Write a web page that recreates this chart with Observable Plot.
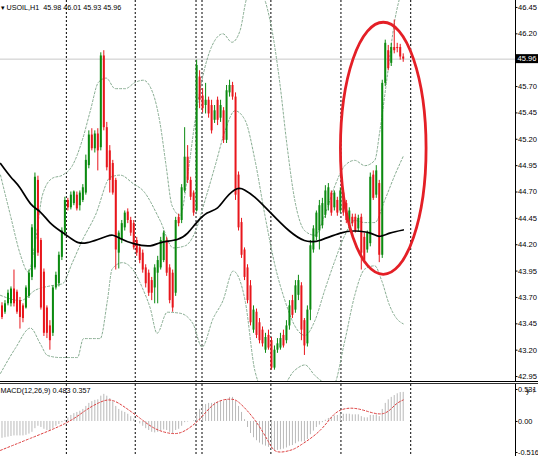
<!DOCTYPE html>
<html><head><meta charset="utf-8">
<script src="https://cdn.jsdelivr.net/npm/d3@7"></script>
<script src="https://cdn.jsdelivr.net/npm/@observablehq/plot@0.6"></script>
<style>
body{margin:0;background:#fff;}
#wrap{width:538px;height:456px;overflow:hidden;background:#fff;}
#wrap svg{display:block;}
</style></head><body><div id="wrap"></div>
<script>
// ---- USOIL H1 candles (price) ----
const open = [
43.62,43.56,43.64,43.64,43.78,43.75,43.67,43.62,43.60,43.71,
43.89,43.98,44.81,44.24,43.94,43.60,43.43,43.36,43.79,43.83,
44.08,44.31,44.62,44.55,44.59,44.67,44.57,44.62,44.69,44.95,
45.24,45.11,45.25,45.12,45.99,45.31,45.09,44.97,44.81,44.12,
44.24,44.36,44.51,44.43,44.40,44.24,44.17,44.12,43.98,43.93,
43.86,43.79,43.93,43.98,44.05,44.24,43.98,43.93,43.74,44.46,
44.43,44.71,45.03,44.81,44.69,44.52,45.79,45.61,45.52,45.57,
45.52,45.38,45.57,45.40,45.47,45.19,45.64,45.71,45.60,44.86,
44.41,44.15,43.98,43.81,43.39,43.56,43.46,43.39,43.20,43.34,
43.29,43.03,43.20,43.22,43.34,43.29,43.43,43.67,43.58,43.72,
43.81,43.48,43.26,43.58,44.15,44.27,44.33,44.38,44.48,44.57,
44.69,44.55,44.62,44.52,44.69,44.59,44.40,44.46,44.46,44.35,
44.46,44.27,44.15,44.21,44.86,44.67,44.78,44.10,45.73,46.04,
45.92,46.07,46.07,46.07,45.98];
const high = [
43.65,43.67,43.77,43.80,43.96,43.77,43.70,43.64,43.81,43.96,
44.39,44.88,44.85,44.26,43.97,43.62,43.48,43.81,43.94,44.13,
44.36,44.65,44.64,44.70,44.71,44.70,44.71,44.77,45.05,45.28,
45.30,45.28,45.30,46.02,46.04,45.36,45.14,45.00,44.83,44.33,
44.43,44.52,44.54,44.46,44.43,44.27,44.20,44.15,44.01,43.96,
43.89,44.01,44.09,44.27,44.33,44.27,44.01,43.96,44.46,44.49,
44.77,45.31,45.14,44.84,44.71,45.95,45.85,45.68,45.73,45.60,
45.57,45.52,45.60,45.57,45.50,45.71,45.76,45.74,45.64,44.89,
44.45,44.17,44.01,43.86,43.62,43.59,43.50,43.42,43.36,43.39,
43.32,43.24,43.31,43.36,43.39,43.48,43.67,43.72,43.86,43.91,
43.84,43.50,43.62,44.24,44.38,44.52,44.62,44.64,44.76,44.78,
44.71,44.71,44.65,44.74,44.71,44.62,44.55,44.49,44.49,44.48,
44.49,44.31,44.33,44.88,44.90,44.95,44.81,45.76,46.14,46.09,
46.11,46.33,46.11,46.10,46.01];
const low = [
43.49,43.54,43.62,43.61,43.61,43.54,43.40,43.46,43.59,43.69,
43.86,43.96,44.09,43.58,43.33,43.31,43.20,43.33,43.77,43.80,
44.05,44.28,44.52,44.53,44.57,44.52,44.52,44.60,44.67,44.92,
45.09,45.07,44.90,45.09,45.28,44.90,44.69,44.67,43.96,43.97,
44.21,44.33,44.40,44.28,44.15,44.09,44.02,43.93,43.79,43.71,
43.67,43.64,43.64,43.96,44.03,43.90,43.64,43.56,43.71,44.37,
44.40,44.69,44.78,44.62,44.47,44.51,45.49,45.45,45.44,45.40,
45.25,45.35,45.33,45.36,45.16,45.16,45.60,45.57,44.62,44.33,
44.07,43.86,43.64,43.43,43.36,43.31,43.26,43.23,43.17,43.20,
43.01,43.01,43.17,43.20,43.22,43.26,43.39,43.50,43.55,43.67,
43.29,43.15,43.23,43.48,44.12,44.24,44.15,44.35,44.45,44.52,
44.47,44.52,44.47,44.50,44.47,44.40,44.33,44.37,44.31,44.32,
43.96,44.02,44.12,44.18,44.62,44.64,44.03,44.07,45.70,45.85,
45.89,46.01,46.02,45.95,45.93];
const close = [
43.51,43.64,43.74,43.78,43.64,43.56,43.51,43.50,43.79,43.93,
44.36,44.84,44.12,43.60,43.36,43.36,43.29,43.79,43.91,44.10,
44.33,44.62,44.55,44.67,44.70,44.54,44.69,44.74,45.00,45.24,
45.11,45.25,45.09,45.99,45.31,44.93,44.81,44.69,44.15,44.31,
44.40,44.50,44.43,44.31,44.17,44.12,44.05,43.96,43.83,43.74,
43.74,43.98,44.05,44.24,44.31,43.93,43.67,43.60,44.43,44.40,
44.74,45.03,44.81,44.65,44.50,45.90,45.57,45.49,45.57,45.44,
45.28,45.47,45.38,45.52,45.19,45.66,45.71,45.60,44.67,44.36,
44.10,43.89,43.67,43.46,43.58,43.34,43.29,43.26,43.32,43.22,
43.03,43.20,43.26,43.31,43.24,43.43,43.62,43.53,43.81,43.86,
43.39,43.24,43.58,44.19,44.35,44.50,44.57,44.59,44.71,44.74,
44.50,44.69,44.50,44.71,44.50,44.43,44.52,44.40,44.33,44.45,
44.12,44.05,44.31,44.84,44.64,44.90,44.10,45.73,46.11,45.87,
46.07,46.04,46.06,45.98,45.96];

// ---- Moving average (black), sampled points: bar index / price ----
const maIdx = [-0.5,3,6,9.5,12.8,16,19.5,23,25.5,28.5,32,35,37,39.5,44,49.5,53,58.5,62,65,68.5,72,75,78.5,81,84.5,89.5,96,101,103.5,106,113,118,123,126,129.5,134];
const maVal = [44.97,44.84,44.74,44.59,44.51,44.41,44.33,44.26,44.22,44.22,44.25,44.28,44.29,44.26,44.21,44.19,44.22,44.25,44.31,44.41,44.50,44.55,44.65,44.73,44.72,44.65,44.51,44.33,44.24,44.23,44.24,44.31,44.33,44.31,44.28,44.31,44.34];

// ---- Bollinger bands (dotted), sampled points ----
const upIdx = [-0.5,2.8,6.2,8.8,11.2,13.5,16.8,20.2,23.5,26.8,29.5,32.2,34.8,37.8,41.2,44.5,47.2,50.5,52.8,54.8,56.8,59.5,62.2,64.5,66.8,70.2,73.8,76.8,79.5,82.2,86.8,89.5,92.8,95.2,97.8,101.2,104.5,107.8,111.2,114.5,117.8,121.2,124.5,126.2,128.5,131.2,133.5];
const upVal = [44.86,44.48,44.10,43.94,44.24,44.67,44.83,44.86,44.95,45.19,45.47,45.74,45.78,45.68,45.68,45.74,45.76,45.63,45.35,44.95,44.57,44.48,44.90,45.38,45.76,46.09,46.20,46.12,46.23,46.56,46.56,46.33,45.73,45.14,44.62,44.33,44.29,44.48,44.76,44.95,45.00,44.95,45.00,45.28,45.76,46.33,46.61];
const midIdx = [-0.5,6.2,11.2,16.2,20.2,23.5,26.8,31.2,36.2,39.5,43.8,47.2,52.8,57.2,61.2,64.5,67.8,71.2,74.5,77.8,81.2,84.5,87.8,91.2,94.5,97.8,101.2,104.5,107.8,111.2,114.5,117.8,121.2,124.5,127.8,131.2,134.2];
const midVal = [43.72,43.67,43.77,43.81,43.83,44.03,44.24,44.48,44.84,44.86,44.78,44.71,44.43,44.17,44.19,44.32,44.62,44.95,45.28,45.47,45.38,45.00,44.48,44.00,43.67,43.43,43.34,43.48,43.77,44.05,44.29,44.43,44.41,44.41,44.62,44.86,45.05];
const lowIdx = [-0.5,4.5,9.5,12.8,15.2,19.5,25.2,27.2,32.8,35.2,36.8,40.2,43.8,47.2,49.5,51.8,55.2,59.5,63.8,66.8,70.5,73.8,77.2,81.2,84.5,88,92,97.8,101.2,104.5,110.5,114.5,117.8,121.2,124.5,126.8,129.5,131.8,134];
const lowVal = [42.98,43.22,43.41,43.26,43.15,43.13,43.13,43.31,43.31,43.67,43.97,44.03,43.96,43.77,43.60,43.36,43.56,43.55,43.45,43.23,43.50,43.67,43.95,43.67,43.00,42.80,42.80,43.01,43.06,42.96,42.86,43.29,43.72,43.97,44.00,43.86,43.62,43.50,43.45];

// ---- MACD(12,26,9): histogram (main) and signal ----
const macd = [
-0.28,-0.27,-0.26,-0.25,-0.24,-0.24,-0.24,-0.24,-0.23,-0.21,-0.18,-0.12,-0.08,-0.1,-0.13,-0.15,-0.15,-0.12,-0.08,-0.05,-0.02,0.02,
0.06,0.1,0.13,0.15,0.17,0.2,0.25,0.3,0.33,0.35,0.36,0.42,0.45,0.42,0.38,0.33,0.25,0.2,0.17,0.15,0.12,0.08,0.04,
0.0,-0.04,-0.08,-0.12,-0.15,-0.18,-0.19,-0.18,-0.16,-0.14,-0.15,-0.18,-0.2,-0.15,-0.13,-0.08,-0.02,-0.01,0.0,0.01,
0.12,0.2,0.25,0.28,0.3,0.3,0.31,0.32,0.33,0.33,0.36,0.4,0.4,0.33,0.25,0.15,0.03,-0.1,-0.2,-0.27,-0.32,-0.36,-0.39,-0.41,-0.43,
-0.48,-0.49,-0.48,-0.47,-0.46,-0.44,-0.41,-0.4,-0.37,-0.34,-0.34,-0.34,-0.3,-0.22,-0.16,-0.1,-0.06,-0.02,0.02,0.05,0.07,0.09,0.1,
0.12,0.12,0.12,0.12,0.11,0.11,0.11,0.08,0.06,0.06,0.1,0.1,0.11,0.08,0.2,0.3,0.36,0.4,0.43,0.46,0.48,0.483];
const sigIdx = [-0.5,9.5,21.2,27.8,32.8,36.8,41.2,46.2,51.2,56.8,61.2,66.2,71.2,76.2,79.5,84.5,88.8,91.8,96.2,99.5,106.2,111.2,116.2,121.2,127.2,131.2,134];
const sigVal = [-0.48,-0.28,-0.03,0.18,0.32,0.35,0.23,0.05,-0.12,-0.2,-0.15,0.05,0.30,0.37,0.30,0.02,-0.32,-0.5,-0.48,-0.40,-0.15,0.13,0.22,0.18,0.13,0.27,0.357];

// ---- day separators (bar index), axis ticks, labels ----
const separators = [21.5,44.5,64.8,66.8,89.8,113.2,136.5];
const priceTicks = [46.45,46.20,45.70,45.45,45.20,44.95,44.70,44.45,44.20,43.95,43.70,43.45,43.20,42.95];
const macdTicks = [0.531,0.00,-0.516];
const macdTickLabels = ["0.531","0.00","-0.516"];
const symbol = "USOIL,H1";
const lastOHLC = [45.98,46.01,45.93,45.96];
const macdLabel = "MACD(12,26,9) 0.483 0.357";
const ring = {cx:127.5, cy:45.11, rx:14.3, ry:1.195}; // highlight ellipse in bar/price units

const bars = open.map((o,i)=>({i, o, h:high[i], l:low[i], c:close[i]}));
const colorOf = d => d.c > d.o ? "#0b8a10" : d.c < d.o ? "#e8161c" : "#000000";
const pts = (ix, vs) => ix.map((x,k)=>({x, y:vs[k]}));

const W = 538, MR = 23;
const xDomain = [-0.5, 171.5];
const font = {fontFamily:"'Liberation Sans', Arial, sans-serif", fontSize:"8px", background:"white", overflow:"hidden"};
const bandStyle = {stroke:"#86ab90", strokeWidth:1, strokeDasharray:"2,2", curve:"monotone-x", clip:true};
const lastClose = close[close.length-1];

const main = Plot.plot({
  width: W, height: 381,
  marginLeft: 0, marginRight: MR, marginTop: 0, marginBottom: 0,
  style: font,
  x: {domain: xDomain, axis: null},
  y: {domain: [42.903, 46.516], axis: null},
  marks: [
    Plot.ruleY([lastClose], {stroke:"#c8c8c8"}),
    Plot.ruleX(separators, {stroke:"#000", strokeDasharray:"2,2", strokeWidth:1}),
    Plot.line(pts(upIdx, upVal), {x:"x", y:"y", ...bandStyle}),
    Plot.line(pts(midIdx, midVal), {x:"x", y:"y", ...bandStyle}),
    Plot.line(pts(lowIdx, lowVal), {x:"x", y:"y", ...bandStyle}),
    Plot.ruleX(bars, {x:"i", y1:"l", y2:"h", stroke:colorOf, strokeWidth:1}),
    Plot.ruleX(bars, {x:"i", y1:"o", y2:d => d.c === d.o ? d.o + 0.006 : d.c, stroke:colorOf, strokeWidth:2}),
    Plot.line(pts(maIdx, maVal), {x:"x", y:"y", stroke:"#000", strokeWidth:1.7, curve:"natural"}),
    (index, scales) => {
      const e = d3.create("svg:ellipse")
        .attr("cx", scales.x(ring.cx)).attr("cy", scales.y(ring.cy))
        .attr("rx", scales.x(ring.cx + ring.rx) - scales.x(ring.cx))
        .attr("ry", scales.y(ring.cy - ring.ry) - scales.y(ring.cy))
        .attr("fill", "none").attr("stroke", "#e41f26").attr("stroke-width", 2.8);
      return e.node();
    },
    Plot.ruleX([xDomain[1]], {stroke:"#000"}),
    Plot.axisY(priceTicks, {anchor:"right", tickSize:1.5, tickPadding:1, tickFormat:d=>d.toFixed(2), fontSize:7.6, color:"#000"}),
    (index, scales) => {
      const g = d3.create("svg:g");
      const yy = scales.y(lastClose), x0 = scales.x(xDomain[1]);
      g.append("rect").attr("x", x0 + 1).attr("y", yy - 4.5).attr("width", 23).attr("height", 9).attr("fill", "#000");
      g.append("text").attr("x", x0 + 2.5).attr("y", yy).attr("dy", "0.35em").attr("fill", "#fff")
        .attr("text-anchor", "start").attr("font-size", 7.6).text(lastClose.toFixed(2));
      return g.node();
    },
    Plot.text([`\u25BE ${symbol}\u00A0\u00A0${lastOHLC.map(v=>v.toFixed(2)).join(" ")}`], {frameAnchor:"top-left", dx:0, dy:7, textAnchor:"start", lineAnchor:"middle", fontSize:7.2, fill:"#000"})
  ]
});

const sub = Plot.plot({
  width: W, height: 72,
  marginLeft: 0, marginRight: MR, marginTop: 0, marginBottom: 0,
  style: font,
  x: {domain: xDomain, axis: null},
  y: {domain: [-0.582, 0.614], axis: null},
  marks: [
    Plot.ruleX(separators, {stroke:"#000", strokeDasharray:"2,2", strokeWidth:1}),
    Plot.ruleX(macd, {x:(d,i)=>i, y1:0, y2:d=>d, stroke:"#b9b9b9", strokeWidth:1}),
    Plot.line(pts(sigIdx, sigVal), {x:"x", y:"y", stroke:"#dd4040", strokeWidth:1, strokeDasharray:"2,2", curve:"natural"}),
    Plot.ruleX([xDomain[1]], {stroke:"#000"}),
    Plot.axisY(macdTicks, {anchor:"right", tickSize:1.5, tickPadding:1, tickFormat:(d,i)=>macdTickLabels[i], fontSize:7.4, color:"#000"}),
    Plot.text([macdLabel], {frameAnchor:"top-left", dx:0, dy:6, textAnchor:"start", lineAnchor:"middle", fontSize:7.2, fill:"#000"})
  ]
});

const wrap = document.getElementById("wrap");
wrap.appendChild(main);
const sep = document.createElement("div");
sep.style.cssText = "height:1px;border-top:1px solid #000;border-bottom:1px solid #333;background:#fff;";
wrap.appendChild(sep);
wrap.appendChild(sub);
</script></body></html>
